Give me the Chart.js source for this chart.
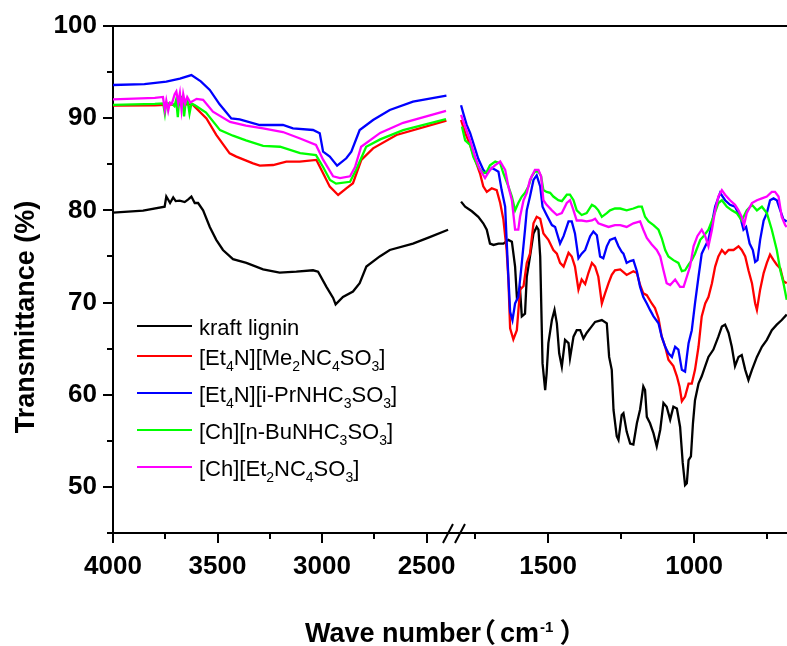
<!DOCTYPE html>
<html>
<head>
<meta charset="utf-8">
<script src="https://cdn.jsdelivr.net/npm/chart.js@4.4.1/dist/chart.umd.min.js"></script>
<style>
  html, body { margin: 0; padding: 0; background: #fff; }
</style>
</head>
<body>
<canvas id="ftir" width="787" height="646"></canvas>
<script>
// Espectros FTIR: [número de onda (cm-1), transmitancia (%)], null = corte del eje
const ligninSpectrum = [
  [4000,79.75],[3856,79.97],[3753,80.4],[3745,81.5],[3737,81.2],[3727,80.8],[3712,81.4],[3700,81.0],
  [3681,81.05],[3657,80.9],[3640,81.2],[3625,81.5],[3609,80.8],[3593,80.8],[3569,80.0],[3537,78.2],
  [3506,76.8],[3474,75.7],[3426,74.7],[3362,74.3],[3282,73.6],[3203,73.25],[3123,73.35],[3043,73.5],
  [3019,73.35],[2979,71.7],[2947,70.5],[2935,69.8],[2900,70.6],[2852,71.2],[2820,72.1],[2788,73.9],
  [2724,75.0],[2676,75.7],[2565,76.4],[2485,77.1],[2397,77.9],
  [2100,null],
  [1798,80.95],[1784,80.4],[1761,79.9],[1739,79.3],[1722,78.6],[1710,77.9],[1699,76.4],[1687,76.25],
  [1670,76.4],[1653,76.4],[1636,76.8],[1624,76.6],[1613,73.9],[1607,70.65],[1596,71.4],[1590,68.5],
  [1579,68.8],[1573,72.8],[1562,75.0],[1550,77.5],[1539,78.2],[1533,77.9],[1527,75.0],[1519,63.4],
  [1510,60.5],[1505,62.3],[1499,65.6],[1487,68.1],[1478,69.2],[1470,67.75],[1462,64.5],[1453,63.05],
  [1442,65.95],[1430,65.6],[1425,63.96],[1413,66.3],[1402,67.0],[1390,67.0],[1379,66.1],[1368,66.7],
  [1356,67.2],[1339,67.9],[1316,68.1],[1299,67.75],[1291,64.1],[1282,62.7],[1276,58.35],[1265,55.5],
  [1259,55.1],[1248,57.8],[1242,58.0],[1231,56.0],[1219,54.7],[1208,54.6],[1196,56.9],[1185,58.4],
  [1174,60.9],[1168,60.5],[1162,57.6],[1151,56.9],[1139,55.8],[1128,54.4],[1116,56.2],[1105,59.1],
  [1094,58.7],[1082,57.3],[1071,58.7],[1059,58.5],[1048,56.5],[1039,52.6],[1031,50.2],[1025,50.4],
  [1019,52.9],[1011,53.3],[1004,56.9],[997,59.4],[985,61.2],[974,62.0],[962,63.1],[951,64.1],
  [934,64.9],[917,66.3],[905,67.4],[894,67.6],[882,66.7],[871,65.2],[860,63.1],[848,64.1],
  [837,64.3],[825,62.7],[814,61.6],[802,62.7],[785,64.1],[768,65.2],[751,65.95],[734,67.0],
  [717,67.6],[700,68.1],[683,68.7]
];

const me2nc4Spectrum = [
  [4000,91.36],[3800,91.4],[3700,91.5],[3620,91.5],[3553,89.98],[3506,88.18],[3442,86.19],[3410,85.83],
  [3330,85.1],[3298,84.85],[3234,84.92],[3171,85.29],[3107,85.29],[3027,85.47],[2995,84.02],[2963,82.57],
  [2923,81.67],[2884,82.39],[2852,82.94],[2812,85.47],[2756,86.73],[2644,88.18],[2405,89.73],
  [2100,null],
  [1798,89.8],[1784,88.4],[1767,87.1],[1750,85.5],[1733,84.0],[1722,82.6],[1710,82.0],[1693,82.4],
  [1676,82.2],[1664,80.8],[1653,79.0],[1642,75.7],[1636,72.5],[1630,67.2],[1619,66.0],[1607,67.0],
  [1596,71.4],[1584,71.8],[1573,74.3],[1562,75.3],[1550,78.6],[1539,79.3],[1527,79.1],[1516,77.5],
  [1499,76.8],[1482,75.7],[1470,75.3],[1459,74.3],[1447,73.9],[1430,75.4],[1419,75.0],[1408,73.9],
  [1396,71.4],[1385,72.5],[1373,72.0],[1362,73.2],[1350,74.3],[1339,73.9],[1328,72.8],[1316,69.9],
  [1305,71.0],[1293,72.1],[1282,73.0],[1271,73.5],[1253,73.6],[1231,73.0],[1208,73.4],[1196,73.2],
  [1185,71.9],[1174,71.0],[1162,70.8],[1145,69.9],[1134,69.4],[1122,68.3],[1111,66.3],[1099,65.2],
  [1088,63.8],[1071,63.1],[1059,62.0],[1050,60.9],[1042,59.3],[1031,59.8],[1019,61.2],[1008,61.2],
  [997,62.7],[985,65.2],[974,68.5],[962,69.9],[951,70.6],[939,72.1],[928,73.9],[917,75.0],
  [905,75.7],[894,75.3],[882,75.7],[865,75.7],[848,76.1],[837,75.7],[825,75.0],[814,73.5],
  [802,72.1],[791,69.9],[785,69.2],[774,71.4],[762,73.2],[751,74.3],[740,75.2],[728,74.6],
  [717,74.1],[705,73.7],[694,72.3],[683,72.1]
];

const iPrSpectrum = [
  [4000,93.6],[3850,93.7],[3745,93.96],[3680,94.3],[3625,94.68],[3580,94.0],[3537,93.06],[3490,91.5],
  [3434,89.98],[3394,89.87],[3298,89.26],[3187,89.26],[3139,88.9],[3043,88.72],[3011,88.36],[2995,86.37],
  [2963,85.83],[2928,84.85],[2884,85.65],[2860,86.37],[2820,88.72],[2756,89.8],[2676,90.89],[2565,91.79],
  [2405,92.44],
  [2100,null],
  [1798,91.4],[1790,90.5],[1779,89.3],[1767,88.4],[1750,86.7],[1739,85.6],[1722,84.4],[1710,84.0],
  [1693,84.6],[1681,84.4],[1670,84.2],[1659,82.2],[1647,80.4],[1642,76.8],[1636,72.8],[1630,69.0],
  [1622,68.1],[1613,69.9],[1602,70.6],[1590,74.3],[1579,77.9],[1573,80.0],[1562,81.5],[1550,83.3],
  [1539,83.8],[1527,82.6],[1519,80.4],[1505,79.5],[1487,78.4],[1476,78.2],[1459,76.4],[1447,77.2],
  [1430,78.8],[1419,78.8],[1408,77.5],[1396,74.8],[1385,75.3],[1373,75.7],[1356,77.2],[1345,77.7],
  [1333,77.3],[1322,75.0],[1311,74.8],[1299,76.1],[1288,76.8],[1271,77.0],[1259,76.1],[1248,75.5],
  [1242,75.3],[1231,74.3],[1219,74.5],[1208,74.6],[1196,73.4],[1185,71.7],[1174,70.6],[1162,69.9],
  [1151,69.2],[1139,68.5],[1122,67.75],[1111,66.3],[1099,65.2],[1088,64.5],[1076,64.1],[1065,65.2],
  [1054,64.9],[1042,62.7],[1031,62.5],[1025,64.1],[1019,65.6],[1008,67.0],[997,69.9],[985,72.8],
  [974,75.3],[962,76.1],[951,76.8],[939,78.6],[928,80.4],[911,81.9],[894,81.1],[877,80.6],
  [860,80.4],[842,79.3],[831,77.9],[822,78.2],[810,76.4],[799,75.7],[791,74.4],[783,74.6],
  [774,76.8],[762,78.9],[751,79.7],[740,81.1],[728,81.3],[717,81.1],[705,80.0],[694,79.0],[683,78.8]
];

const nBuSpectrum = [
  [4000,91.45],[3800,91.55],[3760,91.6],[3752,90.5],[3746,91.6],[3720,91.6],[3706,91.3],[3698,92.0],
  [3690,90.1],[3684,91.9],[3676,92.3],[3668,92.3],[3660,90.2],[3652,91.8],[3643,91.9],[3634,90.5],
  [3625,91.6],[3608,91.4],[3555,90.6],[3488,88.7],[3426,88.1],[3364,87.6],[3282,87.0],[3201,86.9],
  [3105,86.2],[3029,86.0],[2995,84.7],[2962,83.3],[2933,82.9],[2866,83.1],[2837,84.4],[2789,86.9],
  [2722,87.7],[2612,88.7],[2407,89.9],
  [2100,null],
  [1795,89.1],[1784,87.6],[1767,87.1],[1756,85.8],[1739,84.7],[1722,84.0],[1710,84.2],[1699,84.9],
  [1681,85.3],[1664,85.1],[1653,84.0],[1636,82.6],[1624,81.5],[1613,80.0],[1602,80.8],[1590,81.5],
  [1579,81.9],[1567,82.6],[1556,83.7],[1545,84.2],[1533,84.2],[1524,83.7],[1516,82.2],[1505,82.0],
  [1493,81.9],[1482,81.5],[1465,81.1],[1453,81.0],[1436,81.7],[1425,81.7],[1413,81.1],[1402,80.0],
  [1385,79.5],[1368,79.7],[1350,80.6],[1339,80.4],[1328,80.0],[1316,79.3],[1299,79.7],[1288,80.0],
  [1271,80.2],[1253,80.2],[1231,80.0],[1208,80.2],[1191,80.4],[1179,80.4],[1168,79.3],[1156,78.8],
  [1139,78.4],[1122,77.9],[1111,77.0],[1099,75.7],[1088,75.0],[1071,74.6],[1054,74.3],[1042,73.4],
  [1031,73.5],[1019,74.1],[1008,74.6],[997,75.3],[979,76.8],[968,77.2],[951,77.9],[934,79.3],
  [917,80.8],[905,81.1],[888,80.4],[871,80.0],[854,79.7],[837,78.9],[820,80.0],[802,80.6],
  [785,80.0],[768,80.4],[751,79.7],[734,77.9],[717,75.7],[705,73.5],[694,72.1],[683,70.3]
];

const et2nc4Spectrum = [
  [4000,92.05],[3800,92.2],[3761,92.3],[3752,90.9],[3745,91.9],[3736,90.8],[3728,91.7],[3718,91.6],
  [3705,92.6],[3697,92.9],[3688,91.7],[3680,92.7],[3672,90.9],[3664,92.6],[3655,91.6],[3645,92.3],
  [3630,91.7],[3600,92.1],[3569,92.0],[3522,90.7],[3440,89.6],[3364,89.2],[3282,88.9],[3187,88.5],
  [3105,87.8],[3029,87.1],[2995,85.5],[2947,83.7],[2914,83.5],[2866,83.7],[2842,84.7],[2813,86.9],
  [2722,88.4],[2612,89.5],[2407,90.8],
  [2100,null],
  [1798,90.35],[1784,89.1],[1767,87.6],[1750,85.8],[1733,84.4],[1716,83.5],[1699,84.4],[1681,84.9],
  [1664,85.3],[1647,84.4],[1636,82.6],[1624,81.1],[1613,77.9],[1602,77.9],[1596,79.3],[1584,81.1],
  [1573,81.9],[1562,83.3],[1545,84.4],[1533,84.4],[1524,83.7],[1516,81.1],[1505,80.6],[1487,80.0],
  [1470,79.5],[1453,79.7],[1436,80.8],[1425,81.1],[1413,80.0],[1402,78.9],[1385,78.9],[1368,78.8],
  [1350,78.9],[1339,79.1],[1328,78.6],[1311,78.4],[1293,78.2],[1271,78.4],[1253,78.4],[1231,78.2],
  [1208,78.6],[1185,78.8],[1174,77.9],[1162,77.0],[1145,76.3],[1128,75.7],[1116,75.0],[1105,73.5],
  [1094,72.1],[1082,71.9],[1065,72.5],[1048,71.7],[1036,71.7],[1025,72.8],[1014,73.9],[1002,76.1],
  [989,77.2],[974,77.9],[962,77.2],[951,76.1],[939,77.9],[928,80.0],[917,81.5],[905,82.2],
  [894,81.7],[877,81.1],[860,80.6],[848,80.0],[837,79.3],[829,78.4],[820,79.7],[802,80.8],
  [785,81.1],[768,81.3],[751,81.5],[734,82.0],[723,82.0],[711,81.5],[700,79.3],[688,78.4],[683,78.2]
];

const seriesNames = ['kraft lignin', '[Et_4N][Me_2NC_4SO_3]', '[Et_4N][i-PrNHC_3SO_3]',
                     '[Ch][n-BuNHC_3SO_3]', '[Ch][Et_2NC_4SO_3]'];
const seriesColors = ['#000000', '#ff0000', '#0000ff', '#00ff00', '#ff00ff'];
const spectra = [ligninSpectrum, me2nc4Spectrum, iPrSpectrum, nBuSpectrum, et2nc4Spectrum];

const majorWn = [4000, 3500, 3000, 2500, 1500, 1000];
const minorWn = [3750, 3250, 2750, 1750, 1250, 750];
const majorT = [50, 60, 70, 80, 90, 100];
const minorT = [45, 55, 65, 75, 85, 95];

// eje x partido: 4000-2400 y 1800-680 con escalas distintas
const LEFT_PX = 104.5 / 500;
const RIGHT_PX = 146 / 500;
function toAxis(wn) {
  return wn > 2000 ? (4000 - wn) * LEFT_PX : 435 + (1500 - wn) * RIGHT_PX;
}

const FAMILY = '"Liberation Sans", Arial, "Noto Sans CJK SC", sans-serif';
const legendRows = [326, 356, 393, 430, 467];

function drawRich(ctx, text, x, y) {
  text.split(/_(\d)/).forEach((part, i) => {
    if (i % 2) {
      ctx.font = '14px ' + FAMILY;
      ctx.fillText(part, x, y + 6);
    } else {
      ctx.font = '22px ' + FAMILY;
      ctx.fillText(part, x, y);
    }
    x += ctx.measureText(part).width;
  });
}

function inkText(ctx, text, inkLeft, y) {
  const m = ctx.measureText(text);
  ctx.fillText(text, inkLeft + m.actualBoundingBoxLeft, y);
  return inkLeft + m.actualBoundingBoxLeft + m.actualBoundingBoxRight;
}

const decorations = {
  id: 'decorations',
  afterDraw(chart) {
    const { ctx, chartArea: area, scales } = chart;
    const xs = scales.x, ys = scales.y;
    ctx.save();
    ctx.strokeStyle = '#000';
    ctx.lineWidth = 2;
    ctx.beginPath();
    ctx.moveTo(area.left - 1, area.top);
    ctx.lineTo(area.right, area.top);
    minorWn.forEach(wn => {
      const px = Math.round(xs.getPixelForValue(toAxis(wn)));
      ctx.moveTo(px, area.bottom);
      ctx.lineTo(px, area.bottom + 6);
    });
    minorT.forEach(t => {
      const py = Math.round(ys.getPixelForValue(t));
      ctx.moveTo(area.left, py);
      ctx.lineTo(area.left - 6, py);
    });
    ctx.stroke();

    // marcas de corte
    const bx = (xs.getPixelForValue(toAxis(2400)) + xs.getPixelForValue(toAxis(1800))) / 2;
    ctx.beginPath();
    [-6, 6].forEach(dx => {
      ctx.moveTo(bx + dx - 5, area.bottom + 10);
      ctx.lineTo(bx + dx + 5, area.bottom - 9);
    });
    ctx.stroke();

    // títulos
    ctx.fillStyle = '#000';
    ctx.font = 'bold 27px ' + FAMILY;
    ctx.textBaseline = 'alphabetic';
    ctx.save();
    ctx.translate(34, 317);
    ctx.rotate(-Math.PI / 2);
    ctx.textAlign = 'center';
    ctx.fillText('Transmittance (%)', 0, 0);
    ctx.restore();

    ctx.textAlign = 'left';
    const by = 642;
    ctx.fillText('Wave number', 305, by);
    let x = 305 + ctx.measureText('Wave number').width;
    x = inkText(ctx, '（', x + 5, by);
    ctx.fillText('cm', x + 5, by);
    x += 5 + ctx.measureText('cm').width;
    ctx.font = 'bold 15px ' + FAMILY;
    ctx.fillText('-1', x + 1, by - 10);
    x += 1 + ctx.measureText('-1').width;
    ctx.font = 'bold 27px ' + FAMILY;
    inkText(ctx, '）', x + 7, by);

    // leyenda
    spectra.forEach((s, i) => {
      const ly = legendRows[i];
      ctx.strokeStyle = seriesColors[i];
      ctx.lineWidth = 2.2;
      ctx.beginPath();
      ctx.moveTo(137, ly);
      ctx.lineTo(192, ly);
      ctx.stroke();
      ctx.fillStyle = '#000';
      drawRich(ctx, seriesNames[i], 199, ly + 9);
    });
    ctx.restore();
  }
};

const tickFont = { family: FAMILY, size: 26, weight: 'bold' };
const axisGrid = { drawOnChartArea: false, drawTicks: true, tickLength: 10, color: '#000', lineWidth: 2 };
const axisBorder = { display: true, color: '#000', width: 2 };

new Chart(document.getElementById('ftir'), {
  type: 'line',
  data: {
    datasets: spectra.map((s, i) => ({
      label: seriesNames[i].replace(/_/g, ''),
      data: s.map(([wn, t]) => ({ x: toAxis(wn), y: t })),
      borderColor: seriesColors[i],
      borderWidth: 2.3,
      pointRadius: 0,
      tension: 0,
      spanGaps: false,
      order: spectra.length - i
    }))
  },
  options: {
    responsive: false,
    animation: false,
    layout: { padding: { top: 26, right: 0, bottom: 0, left: 0 } },
    plugins: { legend: { display: false }, tooltip: { enabled: false } },
    scales: {
      x: {
        type: 'linear',
        min: 0,
        max: toAxis(682),
        afterBuildTicks: s => { s.ticks = majorWn.map(w => ({ value: toAxis(w) })); },
        afterFit: s => { s.height = 113; },
        ticks: { autoSkip: false, maxRotation: 0, padding: 8, color: '#000', font: tickFont,
                 callback: (v, i) => majorWn[i] },
        grid: axisGrid,
        border: axisBorder
      },
      y: {
        min: 45,
        max: 100,
        afterBuildTicks: s => { s.ticks = majorT.map(v => ({ value: v })); },
        afterFit: s => { s.width = 113; },
        ticks: { padding: 6, color: '#000', font: tickFont },
        grid: axisGrid,
        border: axisBorder
      }
    }
  },
  plugins: [decorations]
});
</script>
</body>
</html>
